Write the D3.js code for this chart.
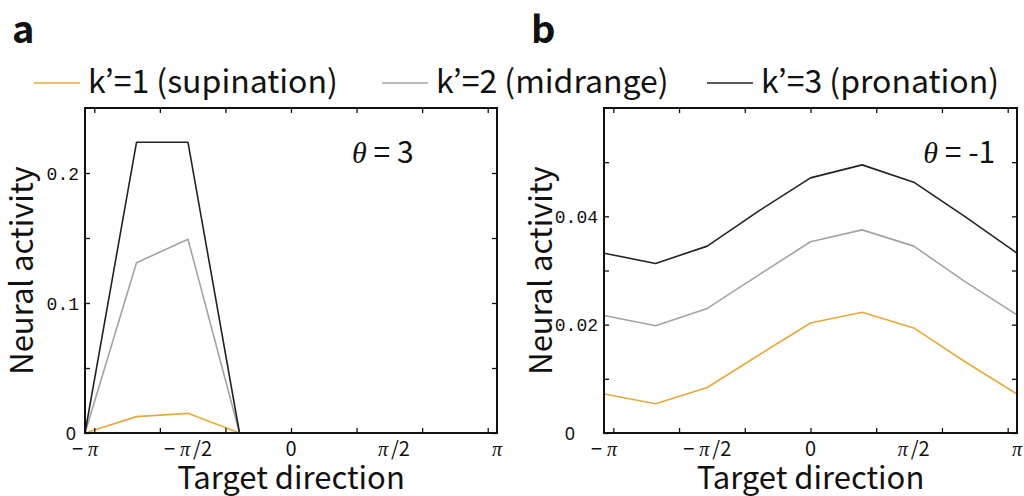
<!DOCTYPE html>
<html>
<head>
<meta charset="utf-8">
<script src="https://cdn.jsdelivr.net/npm/d3@7"></script>
<style>
  body { margin: 0; background: #fff; }
  text { font-family: "Noto Sans CJK JP", "Noto Sans", sans-serif; fill: #111; }
  .ytick text { font-family: "Liberation Mono", monospace; font-size: 18px; }
</style>
</head>
<body>
<svg id="chart" width="1024" height="496"></svg>
<script>
// target directions, -pi .. pi in steps of pi/4
const directions = [-4, -3, -2, -1, 0, 1, 2, 3, 4].map(function(k) { return k * Math.PI / 4; });

const seriesNames = ["k\u2019=1 (supination)", "k\u2019=2 (midrange)", "k\u2019=3 (pronation)"];
const seriesColors = ["#e9a93a", "#a3a3a3", "#222222"];

// panel a, theta = 3
const aSupination = [0, 0.0126, 0.0151, 0, 0, 0, 0, 0, 0];
const aMidrange   = [0, 0.131, 0.149, 0, 0, 0, 0, 0, 0];
const aPronation  = [0, 0.2236, 0.2236, 0, 0, 0, 0, 0, 0];

// panel b, theta = -1
const bSupination = [0.0072, 0.0054, 0.0084, 0.0144, 0.0203, 0.0223, 0.0194, 0.0131, 0.0072];
const bMidrange   = [0.0217, 0.0198, 0.0230, 0.0292, 0.0353, 0.0375, 0.0345, 0.0279, 0.0218];
const bPronation  = [0.0332, 0.0313, 0.0345, 0.0410, 0.0471, 0.0495, 0.0463, 0.0399, 0.0332];

const xTickValues = [-3, -2, -1, 0, 1, 2, 3];
const xLabelValues = [-Math.PI, -Math.PI / 2, 0, Math.PI / 2, Math.PI];
const xLabelTexts = [["\u2212", "\u03c0", ""], ["\u2212", "\u03c0", "/2"], ["", "0", ""], ["", "\u03c0", "/2"], ["", "\u03c0", ""]];

const aYTicks = [0, 0.05, 0.1, 0.15, 0.2];
const aYLabels = ["0", "", "0.1", "", "0.2"];
const bYTicks = [0, 0.01, 0.02, 0.03, 0.04, 0.05];
const bYLabels = ["0", "", "0.02", "", "0.04", ""];

const panels = [
  { letter: "a", left: 85, right: 497, yMax: 0.25, series: [aSupination, aMidrange, aPronation],
    yTicks: aYTicks, yLabels: aYLabels, theta: "3", thetaX: 1.87, thetaY: 0.2077, zeroShift: 0 },
  { letter: "b", left: 604, right: 1017, yMax: 0.06, series: [bSupination, bMidrange, bPronation],
    yTicks: bYTicks, yLabels: bYLabels, theta: "-1", thetaX: 2.81, thetaY: 0.0499, zeroShift: -20 }
];

const plotTop = 108, plotBottom = 433;
const svg = d3.select("#chart");

// legend
const legendX = [34, 382, 707];
seriesNames.forEach(function(name, i) {
  const g = svg.append("g").attr("transform", `translate(${legendX[i]},83)`);
  g.append("line").attr("x1", 0).attr("x2", 46).attr("y1", 0).attr("y2", 0)
    .attr("stroke", seriesColors[i]).attr("stroke-width", 1.6);
  g.append("text").attr("x", 54).attr("y", 10).attr("font-size", 32).text(name);
});

panels.forEach(function(p) {
  const x = d3.scaleLinear().domain([-Math.PI, Math.PI]).range([p.left, p.right]);
  const y = d3.scaleLinear().domain([0, p.yMax]).range([plotBottom, plotTop]);

  // panel letter
  svg.append("text").attr("x", p.left - 73).attr("y", 43)
    .attr("font-size", 38).attr("font-weight", "bold").text(p.letter);

  // data lines
  const line = d3.line().x(function(d, i) { return x(directions[i]); }).y(function(d) { return y(d); });
  p.series.forEach(function(s, i) {
    svg.append("path").datum(s)
      .attr("fill", "none").attr("stroke", seriesColors[i]).attr("stroke-width", 1.6)
      .attr("stroke-linejoin", "round")
      .attr("d", line);
  });

  // frame ticks, inward on all four sides
  const tickLen = 5;
  svg.append("g").attr("transform", `translate(0,${plotBottom})`)
    .call(d3.axisTop(x).tickValues(xTickValues).tickSize(tickLen).tickFormat(""))
    .call(function(g) { g.select(".domain").remove(); });
  svg.append("g").attr("transform", `translate(0,${plotTop})`)
    .call(d3.axisBottom(x).tickValues(xTickValues).tickSize(tickLen).tickFormat(""))
    .call(function(g) { g.select(".domain").remove(); });
  svg.append("g").attr("transform", `translate(${p.right},0)`)
    .call(d3.axisLeft(y).tickValues(p.yTicks).tickSize(tickLen).tickFormat(""))
    .call(function(g) { g.select(".domain").remove(); });
  const yAxis = svg.append("g").attr("class", "ytick").attr("transform", `translate(${p.left},0)`)
    .call(d3.axisRight(y).tickValues(p.yTicks).tickSize(tickLen)
      .tickFormat(function(d, i) { return p.yLabels[i]; }));
  yAxis.select(".domain").remove();
  yAxis.selectAll(".tick text")
    .attr("x", function(d) { return d === 0 ? -9 + p.zeroShift : -6; })
    .attr("text-anchor", "end")
    .attr("dy", "0.35em")
    .style("font-family", function(d) { return d === 0 ? "'Noto Sans', sans-serif" : null; });
  svg.selectAll(".tick line").attr("stroke", "#111").attr("stroke-width", 1.3);

  // frame
  svg.append("rect").attr("x", p.left).attr("y", plotTop)
    .attr("width", p.right - p.left).attr("height", plotBottom - plotTop)
    .attr("fill", "none").attr("stroke", "#111").attr("stroke-width", 2);

  // x labels in multiples of pi
  const xl = svg.append("g");
  xLabelValues.forEach(function(v, i) {
    const t = xl.append("text").attr("x", x(v)).attr("y", 456)
      .attr("text-anchor", "middle").attr("font-size", 20);
    t.append("tspan").text(xLabelTexts[i][0]);
    t.append("tspan").attr("font-style", i === 2 ? "normal" : "italic")
      .attr("font-family", i === 2 ? null : "Liberation Serif")
      .attr("dx", xLabelTexts[i][0] ? 5 : 0)
      .text(xLabelTexts[i][1]);
    t.append("tspan").attr("dx", 3).text(xLabelTexts[i][2]);
  });

  // axis titles
  svg.append("text").attr("x", (p.left + p.right) / 2).attr("y", 489)
    .attr("text-anchor", "middle").attr("font-size", 31).text("Target direction");
  svg.append("text")
    .attr("transform", `translate(${p.left - 52},${(plotTop + plotBottom) / 2}) rotate(-90)`)
    .attr("text-anchor", "middle").attr("font-size", 31).text("Neural activity");

  // theta annotation
  const th = svg.append("text").attr("x", x(p.thetaX)).attr("y", y(p.thetaY))
    .attr("text-anchor", "end").attr("font-size", 30);
  th.append("tspan").attr("font-style", "italic").attr("font-family", "Liberation Serif").text("\u03b8");
  th.append("tspan").text(" = " + p.theta);
});
</script>
</body>
</html>
